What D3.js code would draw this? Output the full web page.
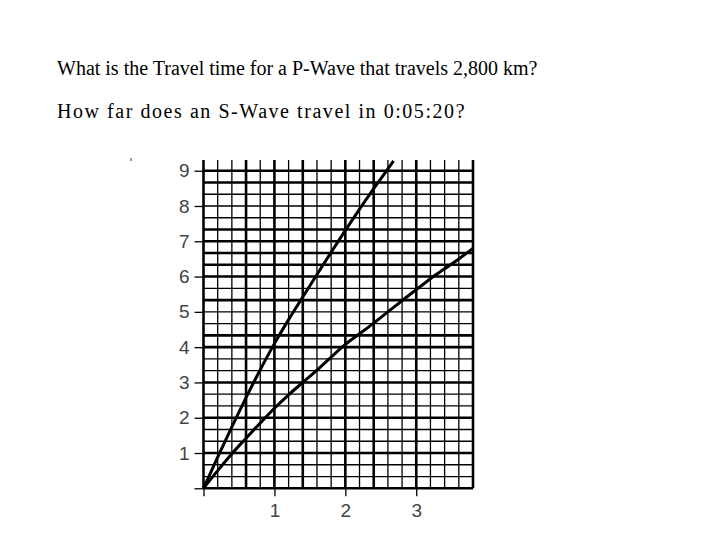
<!DOCTYPE html>
<html>
<head>
<meta charset="utf-8">
<script src="https://d3js.org/d3.v7.min.js"></script>
<style>
  body { margin: 0; background: #fff; }
</style>
</head>
<body>
<svg id="svg-main" width="720" height="540"></svg>
<script>
// questions above the chart
var questions = [
    "What is the Travel time for a P-Wave that travels 2,800 km?",
    "How far does an S-Wave travel in 0:05:20?"
];
var questionSpacing = [0, 1.55];

// tick labels
var xTicks = [0, 1, 2, 3];
var yTicks = [0, 1, 2, 3, 4, 5, 6, 7, 8, 9];

// grid lines drawn heavier in the scan
var thickX = [0, 0.6, 1.0, 1.4, 2.0, 2.4, 3.0, 3.8];
var thickY = [0, 1, 2, 3, 4, 13 / 3, 16 / 3, 6, 19 / 3, 20 / 3, 7, 22 / 3, 26 / 3, 9];

// P-wave curve (steep) : [x, y]
var pWave = [[0, 0], [0.2, 0.88], [0.4, 1.74], [0.6, 2.57], [0.8, 3.36], [1.0, 4.1],
             [1.2, 4.78], [1.4, 5.42], [1.6, 6.06], [1.8, 6.69], [2.0, 7.31],
             [2.2, 7.91], [2.4, 8.49], [2.6, 9.05], [2.68, 9.28]];

// S-wave curve (shallow)
var sWave = [[0, 0], [0.2, 0.5], [0.4, 0.98], [0.6, 1.42], [0.8, 1.85], [1.0, 2.27],
             [1.2, 2.65], [1.4, 3.0], [1.6, 3.35], [1.8, 3.72], [2.0, 4.08],
             [2.2, 4.38], [2.4, 4.68], [2.6, 5.0], [2.8, 5.32], [3.0, 5.63],
             [3.2, 5.94], [3.4, 6.22], [3.6, 6.5], [3.8, 6.8]];

var svg = d3.select("#svg-main");

svg.selectAll("text.question")
   .data(questions)
   .enter()
   .append("text")
   .attr("class", "question")
   .attr("x", 57)
   .attr("y", function(d, i) { return 75 + i * 43; })
   .attr("font-family", "'Liberation Serif', 'Times New Roman', serif")
   .style("font-size", "20px")
   .style("letter-spacing", function(d, i) { return questionSpacing[i] + "px"; })
   .attr("fill", "black")
   .text(function(d) { return d; });

var x = d3.scaleLinear().domain([0, 3.8]).range([203.5, 473]);
var y = d3.scaleLinear().domain([0, 9]).range([488.3, 170.7]);

var isThick = function(list, v) {
    return list.some(function(t) { return Math.abs(t - v) < 0.01; });
};

// grid: verticals every 0.2, horizontals every 1/3
var gx = d3.range(0, 19 + 1).map(function(i) { return i * 0.2; });
var gy = d3.range(0, 27 + 1).map(function(i) { return i / 3; });

var grid = svg.append("g");

grid.selectAll("line.v")
    .data(gx)
    .enter()
    .append("line")
    .attr("class", "v")
    .attr("x1", function(d) { return x(d); })
    .attr("x2", function(d) { return x(d); })
    .attr("y1", y(0))
    .attr("y2", y(9.3))
    .attr("stroke", "black")
    .attr("stroke-width", function(d) { return isThick(thickX, d) ? 2.6 : 1.3; });

grid.selectAll("line.h")
    .data(gy)
    .enter()
    .append("line")
    .attr("class", "h")
    .attr("x1", x(0))
    .attr("x2", x(3.8))
    .attr("y1", function(d) { return y(d); })
    .attr("y2", function(d) { return y(d); })
    .attr("stroke", "black")
    .attr("stroke-width", function(d) { return isThick(thickY, d) ? 2.6 : 1.3; });

// axes
var yAxis = d3.axisLeft(y)
    .tickValues(yTicks)
    .tickSize(9)
    .tickPadding(5)
    .tickFormat(function(d) { return d === 0 ? "" : d; });

var xAxis = d3.axisBottom(x)
    .tickValues(xTicks)
    .tickSize(8)
    .tickPadding(7)
    .tickFormat(function(d) { return d === 0 ? "" : d; });

var gY = svg.append("g").attr("transform", "translate(" + x(0) + ",0)").call(yAxis);
var gX = svg.append("g").attr("transform", "translate(0," + y(0) + ")").call(xAxis);

[gY, gX].forEach(function(g) {
    g.select(".domain").remove();
    g.selectAll(".tick line").attr("stroke", "black").attr("stroke-width", 1.3);
    g.selectAll(".tick text")
     .attr("fill", "#444")
     .attr("font-family", "'Liberation Sans', Arial, sans-serif")
     .style("font-size", "19px");
});

// wave curves
var line = d3.line()
    .x(function(d) { return x(d[0]); })
    .y(function(d) { return y(d[1]); })
    .curve(d3.curveMonotoneX);

[pWave, sWave].forEach(function(s) {
    svg.append("path")
       .datum(s)
       .attr("d", line)
       .attr("fill", "none")
       .attr("stroke", "black")
       .attr("stroke-width", 3);
});

// small speck left of the chart in the scan
svg.append("rect")
   .attr("x", 130)
   .attr("y", 158)
   .attr("width", 2)
   .attr("height", 3)
   .attr("fill", "#999");
</script>
</body>
</html>
